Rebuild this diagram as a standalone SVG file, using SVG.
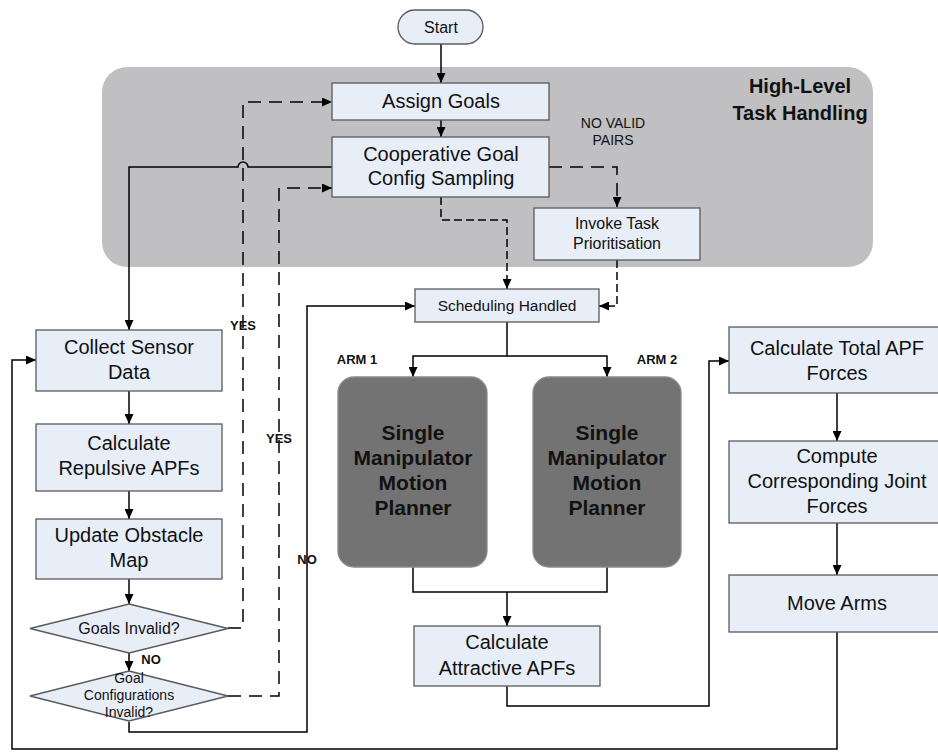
<svg xmlns="http://www.w3.org/2000/svg" width="938" height="752" viewBox="0 0 938 752">
<defs>
<marker id="ah" markerUnits="userSpaceOnUse" markerWidth="10" markerHeight="9" refX="10" refY="4.5" orient="auto">
<path d="M0,0 L10,4.5 L0,9 z" fill="#000"/>
</marker>
<style>
.box{fill:#e8eef8;stroke:#5a5a5a;stroke-width:1.3}
.t{font-family:"Liberation Sans",Arial,sans-serif;fill:#111;text-anchor:middle}
.b20{font-size:20px}
.b16{font-size:16px}
.bold{font-weight:bold}
.conn{fill:none;stroke:#000;stroke-width:1.5}
.d1{stroke-dasharray:13 8}
.d2{stroke-dasharray:8 4}
.smmp{fill:#737373;stroke:#8a8a8a;stroke-width:1.3}
</style>
</defs>
<rect width="938" height="752" fill="#fff"/>

<g id="high-level-region">
<rect x="102" y="67" width="771" height="200" rx="25" fill="#c0c0c2"/>
<text class="t bold" x="800" y="93" font-size="20">High-Level</text>
<text class="t bold" x="800" y="120" font-size="20">Task Handling</text>
</g>

<g id="connectors">
<path class="conn" d="M441,44 V83" marker-end="url(#ah)"/>
<path class="conn" d="M441,120 V137" marker-end="url(#ah)"/>
<path class="conn" d="M332,167 H248 A5,5 0 0 0 238,167 H129 V330" marker-end="url(#ah)"/>
<path class="conn d1" d="M549,167 H617 V207" marker-end="url(#ah)"/>
<path class="conn d2" d="M441,197 V220 H507 V289" marker-end="url(#ah)"/>
<path class="conn d2" d="M617,260 V306 H599" marker-end="url(#ah)"/>
<path class="conn" d="M507,322 V356 H413 V377" marker-end="url(#ah)"/>
<path class="conn" d="M507,356 H607 V377" marker-end="url(#ah)"/>
<path class="conn" d="M413,567 V592 H607 V567"/>
<path class="conn" d="M507,592 V626" marker-end="url(#ah)"/>
<path class="conn" d="M507,686 V706 H709 V361 H729" marker-end="url(#ah)"/>
<path class="conn" d="M837,393 V441" marker-end="url(#ah)"/>
<path class="conn" d="M837,523 V575" marker-end="url(#ah)"/>
<path class="conn" d="M837,632 V749 H12 V360 H36" marker-end="url(#ah)"/>
<path class="conn" d="M129,391 V424" marker-end="url(#ah)"/>
<path class="conn" d="M129,491 V519" marker-end="url(#ah)"/>
<path class="conn" d="M129,579 V604" marker-end="url(#ah)"/>
<path class="conn" d="M129,653 V671" marker-end="url(#ah)"/>
<path class="conn d1" d="M228,628 H243 V102 H332" marker-end="url(#ah)"/>
<path class="conn d1" d="M228,696 H279 V188 H332" marker-end="url(#ah)"/>
<path class="conn" d="M129,722 V732 H307 V306 H415" marker-end="url(#ah)"/>
<text class="t" x="613" y="128" font-size="14">NO VALID</text>
<text class="t" x="613" y="145" font-size="14">PAIRS</text>
<text class="t bold" x="243" y="330" font-size="13">YES</text>
<text class="t bold" x="279" y="443" font-size="13">YES</text>
<text class="t bold" x="151" y="664" font-size="13">NO</text>
<text class="t bold" x="307" y="564" font-size="13">NO</text>
<text class="t bold" x="357" y="364" font-size="13">ARM 1</text>
<text class="t bold" x="657" y="364" font-size="13">ARM 2</text>
</g>

<g id="start">
<rect x="398" y="10" width="85" height="34" rx="17" class="box"/>
<text class="t b16" x="441" y="33">Start</text>
</g>

<g id="assign-goals">
<rect x="332" y="83" width="217" height="37" class="box"/>
<text class="t b20" x="441" y="108">Assign Goals</text>
</g>

<g id="coop-sampling">
<rect x="332" y="137" width="217" height="60" class="box"/>
<text class="t b20" x="441" y="161">Cooperative Goal</text>
<text class="t b20" x="441" y="185">Config Sampling</text>
</g>

<g id="invoke-task">
<rect x="534" y="208" width="166" height="52" class="box"/>
<text class="t b16" x="617" y="229">Invoke Task</text>
<text class="t b16" x="617" y="249">Prioritisation</text>
</g>

<g id="scheduling">
<rect x="415" y="289" width="184" height="33" class="box"/>
<text class="t" x="507" y="311" font-size="15.5">Scheduling Handled</text>
</g>

<g id="smmp-1">
<rect x="338" y="377" width="149" height="190" rx="16" class="smmp"/>
<text class="t bold" x="413" y="440" font-size="21">Single</text>
<text class="t bold" x="413" y="465" font-size="21">Manipulator</text>
<text class="t bold" x="413" y="490" font-size="21">Motion</text>
<text class="t bold" x="413" y="515" font-size="21">Planner</text>
</g>

<g id="smmp-2">
<rect x="533" y="377" width="148" height="190" rx="16" class="smmp"/>
<text class="t bold" x="607" y="440" font-size="21">Single</text>
<text class="t bold" x="607" y="465" font-size="21">Manipulator</text>
<text class="t bold" x="607" y="490" font-size="21">Motion</text>
<text class="t bold" x="607" y="515" font-size="21">Planner</text>
</g>

<g id="attractive">
<rect x="414" y="626" width="186" height="60" class="box"/>
<text class="t b20" x="507" y="649">Calculate</text>
<text class="t b20" x="507" y="675">Attractive APFs</text>
</g>

<g id="total-apf">
<rect x="729" y="327" width="216" height="66" class="box"/>
<text class="t b20" x="837" y="355">Calculate Total APF</text>
<text class="t b20" x="837" y="380">Forces</text>
</g>

<g id="joint-forces">
<rect x="729" y="441" width="216" height="82" class="box"/>
<text class="t b20" x="837" y="463">Compute</text>
<text class="t b20" x="837" y="488">Corresponding Joint</text>
<text class="t b20" x="837" y="513">Forces</text>
</g>

<g id="move-arms">
<rect x="729" y="575" width="216" height="57" class="box"/>
<text class="t b20" x="837" y="610">Move Arms</text>
</g>

<g id="collect-sensor">
<rect x="36" y="330" width="186" height="61" class="box"/>
<text class="t b20" x="129" y="354">Collect Sensor</text>
<text class="t b20" x="129" y="379">Data</text>
</g>

<g id="repulsive">
<rect x="36" y="424" width="186" height="67" class="box"/>
<text class="t b20" x="129" y="450">Calculate</text>
<text class="t b20" x="129" y="475">Repulsive APFs</text>
</g>

<g id="obstacle-map">
<rect x="36" y="519" width="186" height="60" class="box"/>
<text class="t b20" x="129" y="542">Update Obstacle</text>
<text class="t b20" x="129" y="567">Map</text>
</g>

<g id="goals-invalid">
<polygon points="129,604 228,628.5 129,653 30,628.5" class="box"/>
<text class="t b16" x="129" y="634">Goals Invalid?</text>
</g>

<g id="goal-config-invalid">
<polygon points="129,671 228,696 129,721 30,696" class="box"/>
<text class="t" x="129" y="683" font-size="14">Goal</text>
<text class="t" x="129" y="700" font-size="14">Configurations</text>
<text class="t" x="129" y="717" font-size="14">Invalid?</text>
</g>
</svg>
